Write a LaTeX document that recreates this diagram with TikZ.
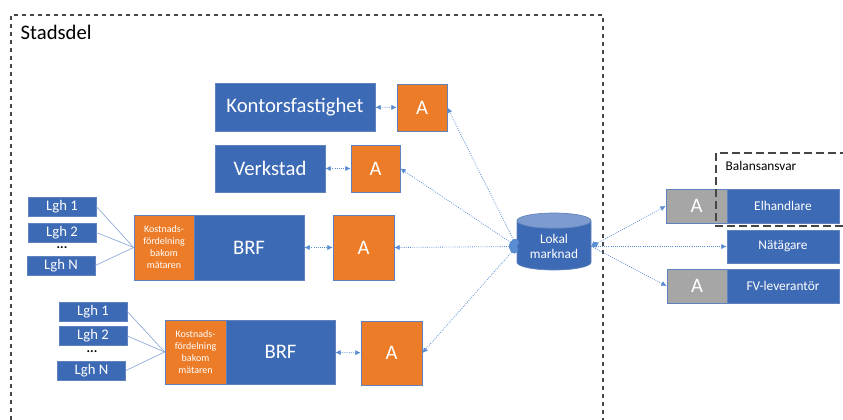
\documentclass[tikz,border=0pt]{standalone}
\usepackage{fontspec}
\setmainfont{Carlito}
\usetikzlibrary{shapes.geometric,arrows.meta}
\definecolor{boxblue}{RGB}{61,106,180}
\definecolor{edgeblue}{RGB}{96,130,190}
\definecolor{topblue}{RGB}{126,155,208}
\definecolor{aorange}{RGB}{236,124,40}
\definecolor{agrey}{RGB}{166,166,166}
\definecolor{linkblue}{RGB}{90,140,210}
\definecolor{feedblue}{RGB}{140,168,218}
\definecolor{frameblack}{RGB}{70,70,70}

\begin{document}
\begin{tikzpicture}[x=0.75pt,y=-0.75pt,>={Latex[length=4pt,width=4pt]},
	sz/.style 2 args={minimum width=#1*0.75pt,minimum height=#2*0.75pt},
	box/.style={draw=edgeblue,line width=0.5pt,fill=boxblue,text=white,inner sep=0pt,align=center},
	abox/.style={box,fill=aorange,font=\fontsize{15.5}{16}\selectfont},
	gbox/.style={box,fill=agrey,font=\fontsize{15.5}{16}\selectfont},
	big/.style={font=\fontsize{15.5}{16}\selectfont},
	lgh/.style={box,sz={68}{19},font=\fontsize{11}{12}\selectfont},
	kost/.style={box,fill=aorange,font=\fontsize{7.5}{9}\selectfont},
	small/.style={font=\fontsize{10}{11}\selectfont},
	link/.style={densely dotted,color=linkblue,line width=0.6pt},
	feed/.style={color=feedblue,line width=0.5pt}]
	\useasboundingbox (0,0) rectangle (843,420);
	% frames
	\draw[dashed,frameblack,line width=0.9pt] (11,420)--(11,15)--(603,15)--(603,420);
	\node[anchor=west,font=\fontsize{15.5}{16}\selectfont] (stadsdel) at (16,32) {Stadsdel};

	% top row
	\node[box,big,sz={160}{48}] (kontor) at (295,107) {Kontorsfastighet};
	\node[abox,sz={50}{47}] (aKontor) at (422,107.5) {A};
	\node[box,big,sz={110}{47}] (verkstad) at (270,168.5) {Verkstad};
	\node[abox,sz={49}{47}] (aVerkstad) at (375.5,168.5) {A};

	% BRF 1
	\node[kost,sz={60}{65}] (kost1) at (164,247.5) {Kostnads-\\fördelning\\bakom\\mätaren};
	\node[box,big,sz={110}{65}] (brf1) at (249,247.5) {BRF};
	\node[abox,sz={61}{65}] (aBrf1) at (363.5,247.5) {A};
	\node[lgh] (lgh11) at (62,206.5) {Lgh 1};
	\node[lgh] (lgh12) at (62,232.5) {Lgh 2};
	\node[font=\fontsize{10}{12}\selectfont\bfseries] (dots1) at (62,248) {...};
	\node[lgh] (lgh1N) at (61,265.5) {Lgh N};

	% BRF 2
	\node[kost,sz={61}{64}] (kost2) at (195.5,352) {Kostnads-\\fördelning\\bakom\\mätaren};
	\node[box,big,sz={109}{64}] (brf2) at (280.5,352) {BRF};
	\node[abox,sz={61}{64}] (aBrf2) at (391.5,353) {A};
	\node[lgh] (lgh21) at (93,311.5) {Lgh 1};
	\node[lgh] (lgh22) at (93,336) {Lgh 2};
	\node[font=\fontsize{10}{12}\selectfont\bfseries] (dots2) at (92,352) {...};
	\node[lgh] (lgh2N) at (91.5,370.5) {Lgh N};

	\foreach \l in {lgh11,lgh12,lgh1N} \draw[feed] (\l.east)--(kost1.west);
	\foreach \l in {lgh21,lgh22,lgh2N} \draw[feed] (\l.east)--(kost2.west);

	% market
	\node[cylinder,shape border rotate=90,aspect=0.3,draw=edgeblue,line width=0.5pt,
		cylinder uses custom fill,cylinder body fill=boxblue,cylinder end fill=topblue,
		text=white,align=center,small,inner sep=1pt,sz={74}{57}] (lokal) at (554,246.5) {Lokal\\marknad};

	% right side
	\node[gbox,sz={61}{34}] (aEl) at (696.5,206) {A};
	\node[box,small,sz={112}{34}] (elhandlare) at (783,206) {Elhandlare};
	\node[box,small,sz={112}{33}] (natagare) at (783,246.5) {Nätägare};
	\node[gbox,sz={60}{34}] (aFv) at (697,286) {A};
	\node[box,small,sz={112}{34}] (fv) at (783,286) {FV-leverantör};
	\draw[dash pattern=on 6pt off 3pt,frameblack,line width=1pt] (843,226)--(716,226)--(716,153)--(843,153);
	\node[anchor=west,small] (balans) at (721,166) {Balansansvar};

	% connectors
	\draw[link,<->] (kontor)--(aKontor);
	\draw[link,<->] (verkstad)--(aVerkstad);
	\draw[link,<->] (brf1)--(aBrf1);
	\draw[link,<->] (brf2)--(aBrf2);
	\foreach \t in {aKontor,aVerkstad,aBrf1,aBrf2}
		\draw[link,{Circle[length=6pt]}->] (lokal.west)--(\t.east);
	\draw[link,{Diamond[length=6pt,width=5pt]}->] (lokal.east)--(aEl.west);
	\draw[link,->] (lokal.east)--(natagare.west);
	\draw[link,->] (lokal.east)--(aFv.west);
\end{tikzpicture}
\end{document}
